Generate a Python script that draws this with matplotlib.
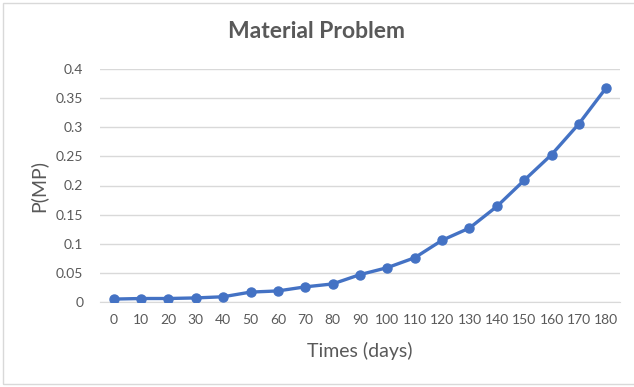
import matplotlib
matplotlib.use("Agg")
import matplotlib.pyplot as plt
from matplotlib.patches import Rectangle

plt.rcParams['font.family'] = ['Lato', 'DejaVu Sans']

days = [0, 10, 20, 30, 40, 50, 60, 70, 80, 90, 100, 110, 120, 130, 140, 150, 160, 170, 180]
p_mp = [0.005, 0.006, 0.006, 0.007, 0.009, 0.017, 0.019, 0.026, 0.031, 0.047, 0.059,
        0.076, 0.106, 0.127, 0.164, 0.209, 0.253, 0.306, 0.368]
y_ticks = [0, 0.05, 0.1, 0.15, 0.2, 0.25, 0.3, 0.35, 0.4]
y_tick_labels = ['0', '0.05', '0.1', '0.15', '0.2', '0.25', '0.3', '0.35', '0.4']

text_color = '#595959'
line_color = '#4472C4'

fig = plt.figure(figsize=(6.34, 3.87), dpi=100)
ax = fig.add_axes([100 / 634, 1 - 302 / 387, 520 / 634, 233 / 387])

# categories are evenly spaced, like an Excel line chart
pos = list(range(len(days)))
ax.plot(pos, p_mp, '-o', color=line_color, linewidth=2.4, markersize=6.5, zorder=3)

ax.set_xlim(-0.5, len(days) - 0.5)
ax.set_ylim(0, 0.4)
ax.set_xticks(pos)
ax.set_xticklabels([str(d) for d in days])
ax.set_yticks(y_ticks)
ax.set_yticklabels(y_tick_labels)

ax.grid(axis='y', color='#D9D9D9', linewidth=1.0)
ax.set_axisbelow(True)
for side in ['top', 'right', 'left']:
    ax.spines[side].set_visible(False)
ax.spines['bottom'].set_color('#D9D9D9')
ax.tick_params(axis='both', length=0, labelsize=10, labelcolor=text_color)
ax.tick_params(axis='x', pad=9)
ax.tick_params(axis='y', pad=12)

ax.set_xlabel('Times (days)', fontsize=14, color=text_color, labelpad=11)
ax.set_ylabel('P(MP)', fontsize=14, color=text_color, labelpad=6)
fig.text(0.5 + 0.0, 1 - 32 / 387, 'Material Problem', ha='center', va='center',
         fontsize=16.5, fontweight='bold', color=text_color)

# chart frame
fig.patches.append(Rectangle((3 / 634, 3 / 387), 1.0, 381 / 387, transform=fig.transFigure,
                             fill=False, edgecolor='#D9D9D9', linewidth=1.0))

fig.savefig('out.png', dpi=100)
